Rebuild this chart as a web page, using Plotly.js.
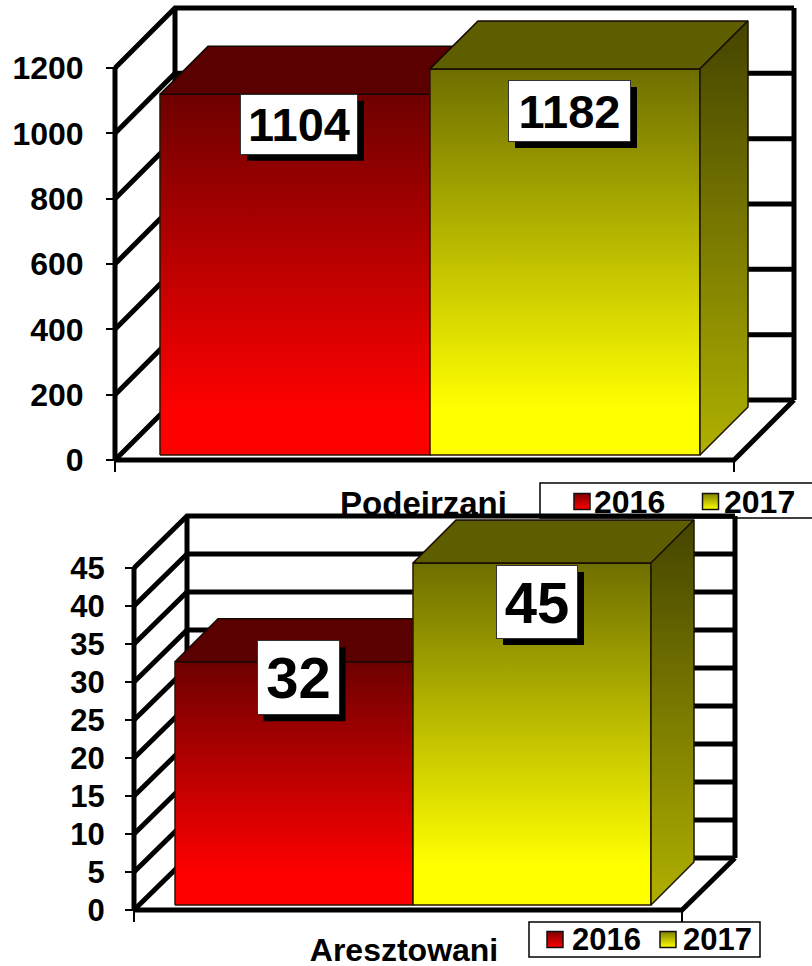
<!DOCTYPE html>
<html><head><meta charset="utf-8">
<script src="https://cdn.plot.ly/plotly-3.0.1.min.js"></script>
<style>html,body{margin:0;padding:0;background:#fff}</style></head>
<body><div id="c" style="width:812px;height:966px"></div>
<script>
const years = ['2016', '2017'];
const categories = ['Podejrzani', 'Aresztowani'];
const podejrzani = [1104, 1182];
const aresztowani = [32, 45];
const ticks1 = [0, 200, 400, 600, 800, 1000, 1200];
const ticks2 = [0, 5, 10, 15, 20, 25, 30, 35, 40, 45];

const W = 812, H = 966, FONT = '"Liberation Sans", Arial, sans-serif', PAD = 6;
const front = [[[0, '#ff0000'], [0.12, '#ff0000'], [1, '#6e0000']], [[0, '#ffff00'], [0.12, '#ffff00'], [1, '#6e6e00']]];
const side = [[[0, '#b00000'], [1, '#440000']], [[0, '#b0b000'], [1, '#444400']]];
const topFace = ['#5a0000', '#5e5e00'];
const swatchEnd = [['#800000', '#ff0000'], ['#808000', '#ffff00']];

const layouts = [
  {name: categories[0], values: podejrzani, ticks: ticks1, xs: 'x', ys: 'y', left: 115, right: 734, y0: 460, yMax: 68,
   bar0: 160, barW: 270, lift: 5, depth: 48, wallX: 60, wallY: 60, tickSize: 32, tickStand: 16, catSize: 33, catStand: 21, catShift: -1,
   labelShift: [[4, 30], [4.5, 42]], labelBox: [[116, 59], [121, 60]], labelSize: 47,
   legend: {box: [540, 483, 816, 518], sw: [582, 710.5], txt: [593, 723], y: 502, size: 32, swatchY: 501.5}},
  {name: categories[1], values: aresztowani, ticks: ticks2, xs: 'x2', ys: 'y2', left: 134, right: 682, y0: 910, yMax: 568,
   bar0: 175, barW: 238, lift: 5, depth: 43, wallX: 53, wallY: 52, tickSize: 31, tickStand: 14, catSize: 32, catStand: 18, catShift: -4,
   labelShift: [[4, 16], [5, 39]], labelBox: [[81, 73], [80, 72]], labelSize: 58,
   legend: {box: [529, 922, 760, 957], sw: [555, 668], txt: [571, 682], y: 939, size: 31, swatchY: 939.5}}
];

const traces = [], annotations = [], shapes = [], layout = {
  width: W, height: H, margin: {l: 0, r: 0, t: 0, b: 0}, paper_bgcolor: '#fff', plot_bgcolor: 'rgba(0,0,0,0)', showlegend: false, hovermode: false
};
const swatchAxes = {xaxis: 'x3', yaxis: 'y3', hoverinfo: 'skip', showlegend: false};

layouts.forEach((c, n) => {
  const s = n ? '2' : '';
  const vMax = c.ticks[c.ticks.length - 1];
  const pxY = (c.y0 - c.yMax) / vMax;             // pixels per value
  const X = p => (p - c.bar0) / c.barW;           // pixel -> x data
  const Y = p => (c.y0 - p) / pxY;                // pixel -> y data
  const dx = px => px / c.barW, dv = px => px / pxY;
  const xa = {xaxis: c.xs, yaxis: c.ys, hoverinfo: 'skip', showlegend: false};
  const lo = X(c.left), hi = X(c.right);
  const plotL = c.left - PAD, plotR = c.right + c.wallX + PAD, plotB = c.y0 + PAD, plotT = c.yMax - c.wallY - PAD;

  layout['xaxis' + s] = {
    domain: [plotL / W, plotR / W], range: [X(plotL), X(plotR)], anchor: 'free', position: 1 - c.y0 / H, showgrid: false, zeroline: false, showline: false,
    tickmode: 'array', tickvals: [(lo + hi) / 2 + dx(c.catShift)], ticktext: [c.name], ticks: '', ticklen: 0, ticklabelstandoff: c.catStand,
    tickfont: {family: FONT, size: c.catSize, weight: 'bold', color: '#000'},
    minor: {tickmode: 'array', tickvals: [lo, hi], ticks: 'outside', ticklen: 11, tickwidth: 1.5, tickcolor: '#000', showgrid: false}
  };
  layout['yaxis' + s] = {
    domain: [1 - plotB / H, 1 - plotT / H], range: [Y(plotB), Y(plotT)], anchor: 'free', position: c.left / W, showgrid: false, zeroline: false, showline: false,
    tickmode: 'array', tickvals: c.ticks, ticktext: c.ticks.map(String), ticks: 'outside', ticklen: 9, tickwidth: 2, tickcolor: '#000', ticklabelstandoff: c.tickStand,
    tickfont: {family: FONT, size: c.tickSize, weight: 'bold', color: '#000'}
  };

  // wall background (white, hides whatever lies behind this chart)
  const wx = dx(c.wallX), wv = dv(c.wallY);
  traces.push({...xa, mode: 'none', fill: 'toself', fillcolor: '#fff',
    x: [lo + wx, hi + wx, hi + wx, lo + wx, lo + wx], y: [wv, wv, vMax + wv, vMax + wv, wv]});

  // frame and gridlines
  const gx = [], gy = [];
  c.ticks.forEach(t => { gx.push(lo, lo + wx, hi + wx, null); gy.push(t, t + wv, t + wv, null); });
  gx.push(lo + wx, lo + wx, null, hi + wx, hi + wx, null, lo, lo, null, lo, hi, hi + wx);
  gy.push(wv, vMax + wv, null, wv, vMax + wv, null, 0, vMax, null, 0, 0, wv);
  traces.push({...xa, mode: 'lines', x: gx, y: gy, line: {color: '#000', width: 5}, connectgaps: false});

  // bars
  const lift = dv(c.lift), d = dx(c.depth), dy = dv(c.depth);
  c.values.forEach((v, i) => {
    const L = i, R = i + 1, T = v + lift;
    traces.push({...xa, mode: 'lines', name: years[i], fill: 'toself', line: {color: '#2a1500', width: 1.5},
      fillgradient: {type: 'vertical', start: lift, stop: T, colorscale: front[i]},
      x: [L, R, R, L, L], y: [lift, lift, T, T, lift]});
    traces.push({...xa, mode: 'lines', fill: 'toself', fillcolor: topFace[i], line: {color: '#140800', width: 1.5},
      x: [L, R, R + d, L + d, L], y: [T, T, T + dy, T + dy, T]});
    traces.push({...xa, mode: 'lines', fill: 'toself', line: {color: '#1c1400', width: 1.5},
      fillgradient: {type: 'vertical', start: lift, stop: T + dy, colorscale: side[i]},
      x: [R, R + d, R + d, R, R], y: [lift, lift + dy, T + dy, T, lift]});
    // value label: shadow shape pinned to the bar's data position, box annotation on top
    const [bw, bh] = c.labelBox[i], [sx, sy] = c.labelShift[i];
    shapes.push({type: 'rect', layer: 'above', xref: c.xs, yref: c.ys, xsizemode: 'pixel', ysizemode: 'pixel', xanchor: i + 0.5, yanchor: T,
      x0: sx - bw / 2 + 6, x1: sx + bw / 2 + 7, y0: -sy + bh / 2 - 6 + 0, y1: -sy - bh / 2 - 7, fillcolor: '#000', line: {width: 0}});
    annotations.push({xref: c.xs, yref: c.ys, x: i + 0.5, y: T, text: '<b>' + v + '</b>', showarrow: false, xanchor: 'center', yanchor: 'middle',
      width: bw, height: bh, borderpad: 0, font: {family: FONT, size: c.labelSize, color: '#000'},
      bgcolor: '#fff', bordercolor: '#333', borderwidth: 1, xshift: sx, yshift: -sy});
  });

  // legend
  const g = c.legend;
  shapes.push({type: 'rect', xref: 'paper', yref: 'paper', x0: g.box[0] / W, x1: g.box[2] / W, y0: 1 - g.box[1] / H, y1: 1 - g.box[3] / H,
    line: {color: '#000', width: 1.5}, fillcolor: 'rgba(0,0,0,0)', layer: 'above'});
  years.forEach((yr, i) => {
    traces.push({...swatchAxes, mode: 'markers', name: yr, x: [g.sw[i]], y: [g.swatchY],
      marker: {symbol: 'square', size: 16, color: swatchEnd[i][0], line: {color: '#111', width: 1.5}, gradient: {type: 'vertical', color: swatchEnd[i][1]}}});
    annotations.push({xref: 'paper', yref: 'paper', x: g.txt[i] / W, y: 1 - g.y / H, xanchor: 'left', yanchor: 'middle', showarrow: false, borderpad: 0,
      text: '<b>' + yr + '</b>', font: {family: FONT, size: g.size, color: '#000'}});
  });
});
layout.xaxis3 = {domain: [0, 1], range: [0, W], anchor: 'y3', visible: false, fixedrange: true};
layout.yaxis3 = {domain: [0, 1], range: [H, 0], anchor: 'x3', visible: false, fixedrange: true};
layout.annotations = annotations;
layout.shapes = shapes;
Plotly.newPlot('c', traces, layout, {displayModeBar: false, responsive: false});
</script></body></html>
